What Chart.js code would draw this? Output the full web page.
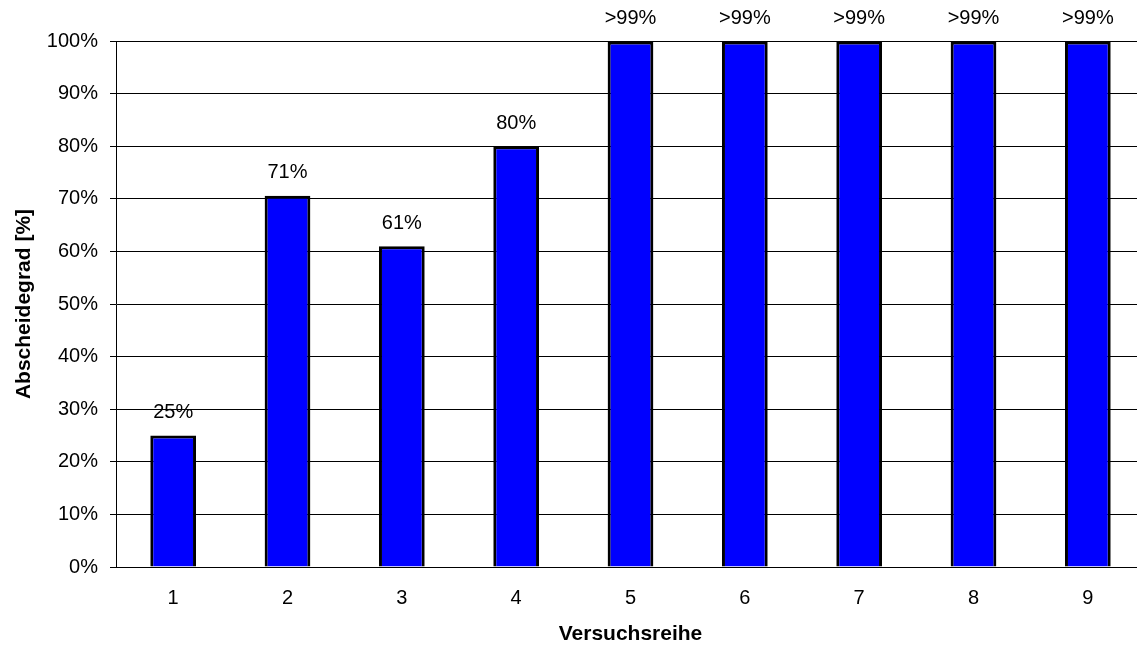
<!DOCTYPE html>
<html>
<head>
<meta charset="utf-8">
<script src="https://cdn.jsdelivr.net/npm/chart.js@4/dist/chart.umd.min.js"></script>
<style>
  html, body { margin: 0; padding: 0; background: #fff; overflow: hidden; }
  canvas { display: block; }
</style>
</head>
<body>
<canvas id="c" width="1145" height="647"></canvas>
<script>
// Test series (Versuchsreihe) and separation efficiency in percent
const categories = ['1', '2', '3', '4', '5', '6', '7', '8', '9'];
const abscheidegrad = [25, 70.6, 61, 80, 99.9, 99.9, 99.9, 99.9, 99.9];
const yTicks = [0, 10, 20, 30, 40, 50, 60, 70, 80, 90, 100];

const FONT = '"Liberation Sans", Arial, Helvetica, sans-serif';

function valueLabel(v) {
  return v > 99 ? '>99%' : Math.round(v) + '%';
}

// Writes each bar's value above it
const barValueLabels = {
  id: 'barValueLabels',
  afterDatasetsDraw(chart) {
    const ctx = chart.ctx;
    const meta = chart.getDatasetMeta(0);
    ctx.save();
    ctx.font = '20px ' + FONT;
    ctx.fillStyle = '#000';
    ctx.textAlign = 'center';
    ctx.textBaseline = 'middle';
    meta.data.forEach((bar, i) => {
      ctx.fillText(valueLabel(abscheidegrad[i]), bar.x, bar.y - 23);
    });
    ctx.restore();
  }
};

new Chart(document.getElementById('c'), {
  type: 'bar',
  data: {
    labels: categories,
    datasets: [{
      data: abscheidegrad,
      backgroundColor: '#0000ff',
      borderColor: '#000000',
      borderWidth: 3,
      categoryPercentage: 1,
      barPercentage: 0.4
    }]
  },
  options: {
    responsive: false,
    animation: false,
    devicePixelRatio: 1,
    layout: { padding: { top: 41, right: 0, bottom: 0, left: 0 } },
    plugins: {
      legend: { display: false },
      tooltip: { enabled: false }
    },
    scales: {
      x: {
        grid: { display: false, drawTicks: false },
        border: { display: true, color: '#000', width: 1 },
        ticks: {
          color: '#000',
          font: { family: FONT, size: 20 },
          padding: 19,
          maxRotation: 0
        },
        title: {
          display: true,
          text: 'Versuchsreihe',
          color: '#000',
          font: { family: FONT, size: 21, weight: 'bold' },
          padding: { top: 1, bottom: 0 }
        },
        afterFit(scale) { scale.height = 80; }
      },
      y: {
        min: 0,
        max: 100,
        afterBuildTicks(scale) {
          scale.ticks = yTicks.map(v => ({ value: v }));
        },
        grid: {
          color: '#000',
          lineWidth: 1,
          drawTicks: true,
          tickLength: 6,
          tickColor: '#000'
        },
        border: { display: true, color: '#000', width: 1 },
        ticks: {
          color: '#000',
          font: { family: FONT, size: 20 },
          padding: 12,
          callback: v => v + '%'
        },
        title: {
          display: true,
          text: 'Abscheidegrad [%]',
          color: '#000',
          font: { family: FONT, size: 21, weight: 'bold' },
          padding: { top: 12, bottom: 0 }
        },
        afterFit(scale) { scale.width = 116; }
      }
    }
  },
  plugins: [barValueLabels]
});
</script>
</body>
</html>
